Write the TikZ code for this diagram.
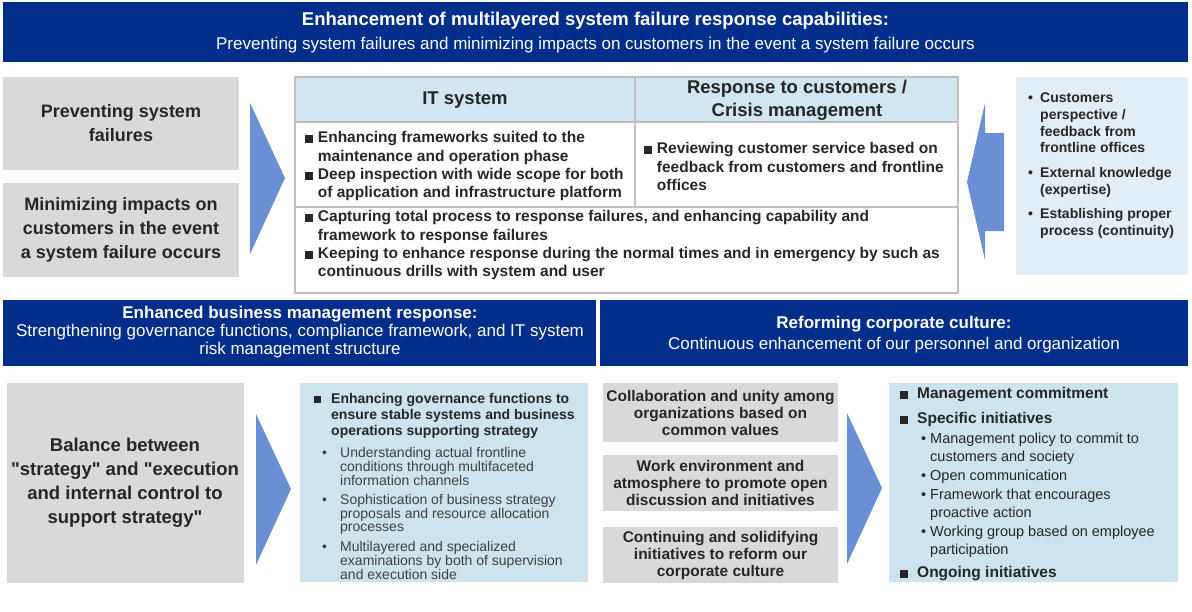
\documentclass[tikz,border=0pt]{standalone}
\usepackage{fontspec}
\setmainfont{Liberation Sans}

\definecolor{navy}{RGB}{0,46,138}
\definecolor{boxgray}{RGB}{217,217,217}
\definecolor{arrowblue}{RGB}{106,143,212}
\definecolor{headblue}{RGB}{209,230,240}
\definecolor{paleblue}{RGB}{227,237,246}
\definecolor{lightblue}{RGB}{205,227,238}
\definecolor{rulegray}{RGB}{191,191,191}
\definecolor{ink}{RGB}{38,38,38}
\definecolor{softink}{RGB}{64,64,64}

\newcommand{\sqbul}{\rule{0.5em}{0.5em}\hspace{5pt}}
\newcommand{\sqtab}{\hphantom{\rule{0.5em}{0.5em}\hspace{5pt}}}
\newcommand{\sqlead}{\makebox[17pt][l]{\rule{0.5em}{0.5em}}}
\newcommand{\dotlead}[1]{\makebox[#1][l]{\textbullet}}

\begin{document}
\begin{tikzpicture}[x=1pt, y=-1pt,
    every node/.style={inner sep=0pt, text=ink},
    banner/.style={text=white, align=center},
    bigbold/.style={align=center, font=\bfseries\fontsize{18}{24}\selectfont},
    headbold/.style={align=center, font=\bfseries\fontsize{18.5}{23}\selectfont},
    cellbold/.style={anchor=north west, align=left, font=\bfseries\fontsize{15.5}{18.4}\selectfont},
    sidebold/.style={anchor=north west, align=left, font=\bfseries\fontsize{14}{16.7}\selectfont},
    midbold/.style={align=center, font=\bfseries\fontsize{15.5}{17}\selectfont},
    listbold/.style={anchor=north west, align=left, font=\bfseries\fontsize{14}{16}\selectfont},
    listthin/.style={anchor=north west, align=left, text=softink, font=\fontsize{14}{13}\selectfont},
    rule/.style={rulegray, line width=1.5pt}]

\useasboundingbox (0,0) rectangle (1192,611);

%top band
\fill [navy] (3,2) rectangle (1188,62);
\path (595.5,33) node (title) [banner, font=\fontsize{17}{24}\selectfont]
   {{\bfseries\fontsize{18.5}{24}\selectfont Enhancement of multilayered system failure response capabilities:}\\
    Preventing system failures and minimizing impacts on customers in the event a system failure occurs};

%left boxes
\fill [boxgray] (3,77) rectangle (239,170);
\fill [boxgray] (3,183) rectangle (239,277);
\path (121,123.5) node (prevent) [bigbold] {Preventing system\\failures};
\path (121,230) node (minimize) [bigbold] {Minimizing impacts on\\customers in the event\\a system failure occurs};

%arrows
\foreach \ax/\ay in {250/103, 256/414, 847/413}
   {\fill [arrowblue] (\ax,\ay) -- ++(35,75) -- ++(-35,76) -- cycle;
   }

%table
\fill [headblue] (295,77) rectangle (958,122);
\draw [rule] (295,77) rectangle (958,293);
\draw [rule] (295,122) -- (958,122);
\draw [rule] (295,207) -- (958,207);
\draw [rule] (635,77) -- (635,207);
\path (465,100) node (itsys) [headbold] {IT system};
\path (797,100) node (crisis) [headbold] {Response to customers /\\Crisis management};
\path (305,131.3) node (itcell) [cellbold]
   {\sqbul Enhancing frameworks suited to the\\
    \sqtab maintenance and operation phase\\
    \sqbul Deep inspection with wide scope for both\\
    \sqtab of application and infrastructure platform};
\path (644,142.3) node (crisiscell) [cellbold]
   {\sqbul Reviewing customer service based on\\
    \sqtab feedback from customers and frontline\\
    \sqtab offices};
\path (305,210.3) node (bothcell) [cellbold]
   {\sqbul Capturing total process to response failures, and enhancing capability and\\
    \sqtab framework to response failures\\
    \sqbul Keeping to enhance response during the normal times and in emergency by such as\\
    \sqtab continuous drills with system and user};

%inputs
\fill [arrowblue] (967,182) -- (985,103) -- (985,133) -- (1004,133) -- (1004,231)
   -- (985,231) -- (985,260) -- cycle;
\fill [paleblue] (1016,77) rectangle (1188,275);
\path (1028,92.8) node (inputs) [sidebold]
   {\dotlead{12pt}Customers\\
    \hspace*{12pt}perspective /\\
    \hspace*{12pt}feedback from\\
    \hspace*{12pt}frontline offices\\[8.2pt]
    \dotlead{12pt}External knowledge\\
    \hspace*{12pt}(expertise)\\[7.6pt]
    \dotlead{12pt}Establishing proper\\
    \hspace*{12pt}process (continuity)};

%second band
\fill [navy] (3,300) rectangle (596,366);
\fill [navy] (600,300) rectangle (1188,366);
\path (300,332.5) node (business) [banner, font=\fontsize{17}{18}\selectfont]
   {{\bfseries Enhanced business management response:}\\
    Strengthening governance functions, compliance framework, and IT system\\
    risk management structure};
\path (894,335) node (culture) [banner, font=\fontsize{17}{21}\selectfont]
   {{\bfseries Reforming corporate culture:}\\
    Continuous enhancement of our personnel and organization};

%balance
\fill [boxgray] (7,383) rectangle (244,583);
\path (125,483) node (balance) [bigbold, font=\bfseries\fontsize{18.5}{24}\selectfont]
   {Balance between\\\textquotedbl strategy\textquotedbl{} and \textquotedbl execution\\and internal control to\\support strategy\textquotedbl};

%governance
\fill [lightblue] (300,383) rectangle (588,582);
\path (314,392.8) node (govern) [listbold]
   {\sqlead Enhancing governance functions to\\
    \hspace*{17pt}ensure stable systems and business\\
    \hspace*{17pt}operations supporting strategy};
\foreach \gy/\txt [count=\i] in
   {446.8/{Understanding actual frontline\\ \hspace*{18pt}conditions through multifaceted\\ \hspace*{18pt}information channels},
    493.8/{Sophistication of business strategy\\ \hspace*{18pt}proposals and resource allocation\\ \hspace*{18pt}processes},
    540.8/{Multilayered and specialized\\ \hspace*{18pt}examinations by both of supervision\\ \hspace*{18pt}and execution side}}
   {\path (322,\gy) node (govern\i) [listthin] {\dotlead{18pt}\txt};
   }

%values
\foreach \ya/\yb/\txt [count=\i] in
   {383/442/{Collaboration and unity among\\organizations based on\\common values},
    455/511/{Work environment and\\atmosphere to promote open\\discussion and initiatives},
    527/583/{Continuing and solidifying\\initiatives to reform our\\corporate culture}}
   {\fill [boxgray] (603,\ya) rectangle (838,\yb);
    \path (720.5,{(\ya+\yb)/2}) node (value\i) [midbold] {\txt};
   }

%initiatives
\fill [lightblue] (889,383) rectangle (1178,582);
\path (900,387.3) node (commit) [anchor=north west, align=left, font=\bfseries\fontsize{15.5}{25}\selectfont]
   {\sqlead Management commitment\\
    \sqlead Specific initiatives};
\path (921,432.6) node (measures) [anchor=north west, align=left, font=\fontsize{14.5}{18.6}\selectfont]
   {\dotlead{9pt}Management policy to commit to\\
    \hspace*{9pt}customers and society\\
    \dotlead{9pt}Open communication\\
    \dotlead{9pt}Framework that encourages\\
    \hspace*{9pt}proactive action\\
    \dotlead{9pt}Working group based on employee\\
    \hspace*{9pt}participation};
\path (900,566.3) node (ongoing) [anchor=north west, font=\bfseries\fontsize{15.5}{18}\selectfont]
   {\sqlead Ongoing initiatives};

\end{tikzpicture}
\end{document}
